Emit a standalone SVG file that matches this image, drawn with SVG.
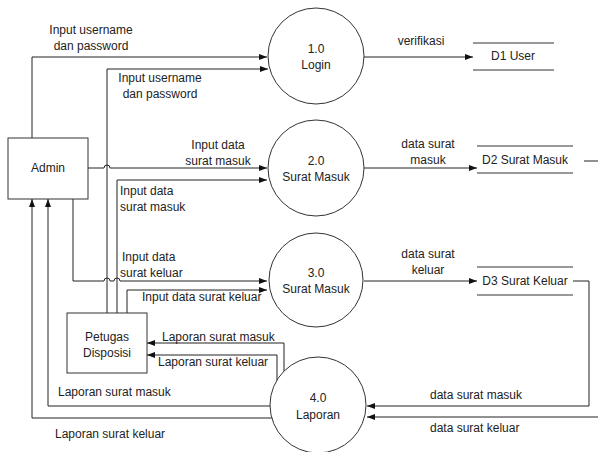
<svg xmlns="http://www.w3.org/2000/svg" width="598" height="452" viewBox="0 0 598 452">
<defs>
<marker id="arr" markerWidth="8" markerHeight="6" refX="8" refY="3" orient="auto" markerUnits="userSpaceOnUse">
<path d="M0,0 L8,3 L0,6 z" fill="#111"/>
</marker>
<style>
text{font-family:"Liberation Sans",Arial,sans-serif;font-size:12px;fill:#222}
.m{text-anchor:middle}
.n{fill:#fff;stroke:#333;stroke-width:1}
.ds{stroke:#333;stroke-width:1}
.c path{fill:none;stroke:#222;stroke-width:1}
.c path.a{marker-end:url(#arr)}
</style>
</defs>
<rect width="598" height="452" fill="#fff"/>
<g class="c" id="connectors">
<path class="a" d="M32,138 V57 H267"/>
<path class="a" d="M107,313 V69 H268"/>
<path class="a" d="M88,168 H104 A3,3 0 0 1 110,168 H267"/>
<path class="a" d="M117,313 V180 H267"/>
<path class="a" d="M73,199 V281 H104 A3,3 0 0 1 110,281 H114 A3,3 0 0 1 120,281 H267"/>
<path class="a" d="M127,313 V290 H267"/>
<path class="a" d="M364,57 H473"/>
<path class="a" d="M364,168 H477"/>
<path class="a" d="M364,281 H477"/>
<path d="M584,161 H598"/>
<path class="a" d="M573,281 H589 V406 H367"/>
<path class="a" d="M598,417 H367"/>
<path class="a" d="M284,372 V343 H147"/>
<path class="a" d="M277,381 V355 H147"/>
<path class="a" d="M271,406 H48 V199"/>
<path class="a" d="M273,418 H32 V199"/>
</g>
<g id="labels">
<text class="m" x="91" y="34">Input username</text>
<text class="m" x="91" y="50">dan password</text>
<text class="m" x="160" y="82">Input username</text>
<text class="m" x="160" y="98">dan password</text>
<text class="m" x="218" y="149">Input data</text>
<text class="m" x="218" y="165">surat masuk</text>
<text x="120" y="195">Input data</text>
<text x="120" y="211">surat masuk</text>
<text x="122" y="261">Input data</text>
<text x="120" y="277">surat keluar</text>
<text x="142" y="301">Input data surat keluar</text>
<text class="m" x="421" y="45">verifikasi</text>
<text class="m" x="428" y="148">data surat</text>
<text class="m" x="428" y="164">masuk</text>
<text class="m" x="428" y="258">data surat</text>
<text class="m" x="428" y="274">keluar</text>
<text x="162" y="341">Laporan surat masuk</text>
<text x="158" y="366">Laporan surat keluar</text>
<text x="58" y="396">Laporan surat masuk</text>
<text x="55" y="438">Laporan surat keluar</text>
<text x="430" y="399">data surat masuk</text>
<text x="430" y="432">data surat keluar</text>
</g>
<g id="admin"><rect class="n" x="8" y="138" width="80" height="61"/><text class="m" x="48" y="172">Admin</text></g>
<g id="petugas"><rect class="n" x="67" y="313" width="80" height="60"/><text class="m" x="107" y="341">Petugas</text><text class="m" x="107" y="357">Disposisi</text></g>
<g id="p1"><circle class="n" cx="316" cy="56" r="48"/><text class="m" x="316" y="53">1.0</text><text class="m" x="316" y="69">Login</text></g>
<g id="p2"><circle class="n" cx="316" cy="168" r="48"/><text class="m" x="316" y="165">2.0</text><text class="m" x="316" y="181">Surat Masuk</text></g>
<g id="p3"><circle class="n" cx="316" cy="280" r="47"/><text class="m" x="316" y="277">3.0</text><text class="m" x="316" y="293">Surat Masuk</text></g>
<g id="p4"><circle class="n" cx="318" cy="405" r="48"/><text class="m" x="318" y="402">4.0</text><text class="m" x="318" y="419">Laporan</text></g>
<g id="d1"><path class="ds" d="M473,43 H554 M473,70 H554"/><text class="m" x="513" y="60">D1 User</text></g>
<g id="d2"><path class="ds" d="M477,146 H573 M477,173 H573"/><text class="m" x="525" y="164">D2 Surat Masuk</text></g>
<g id="d3"><path class="ds" d="M477,267 H573 M477,295 H573"/><text class="m" x="525" y="285">D3 Surat Keluar</text></g>
</svg>
